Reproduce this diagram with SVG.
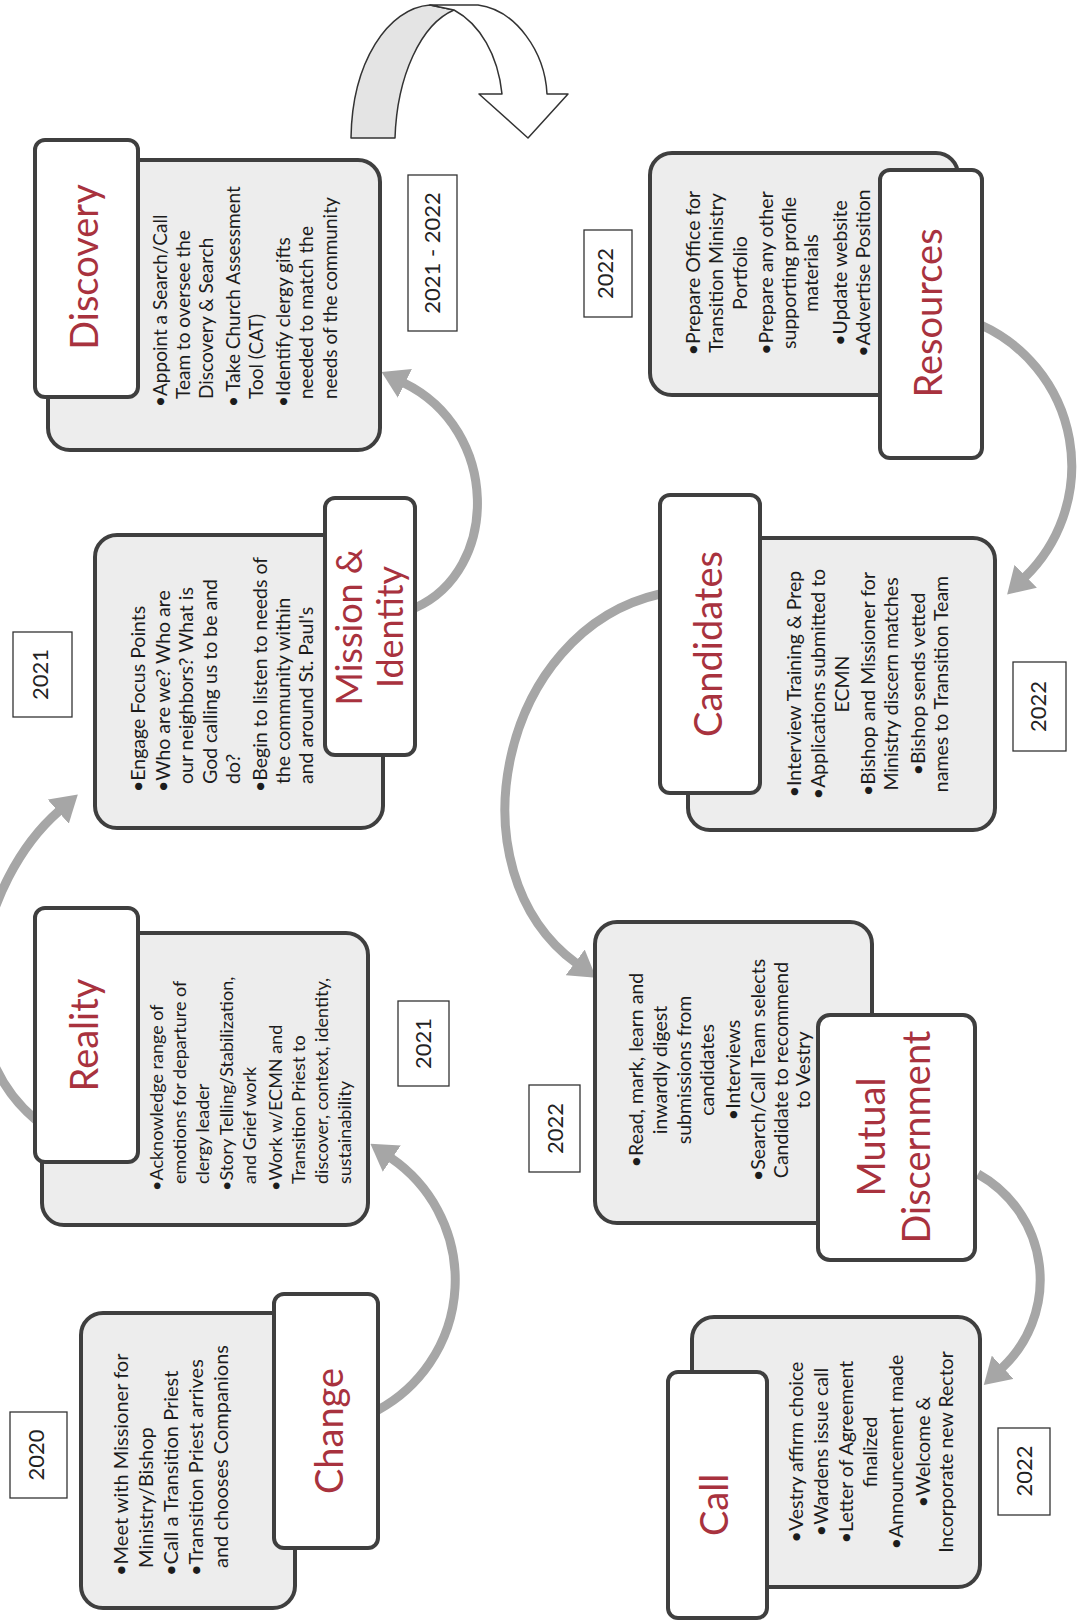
<svg xmlns="http://www.w3.org/2000/svg" width="1079" height="1621" viewBox="0 0 1079 1621">
<defs>
<style>
.body{fill:#ededed;stroke:#3f3f3f;stroke-width:4}
.label{fill:#ffffff;stroke:#3f3f3f;stroke-width:4}
.head{font-family:Lato,"Liberation Sans",sans-serif;font-size:38px;fill:#a8323e;text-anchor:middle}
.txt{font-family:Lato,"Liberation Sans",sans-serif;font-size:19.5px;fill:#1c1c1c}
.ctr{text-anchor:middle}
.yr rect{fill:#ffffff;stroke:#333333;stroke-width:1.3}
.yr text{font-family:Lato,"Liberation Sans",sans-serif;font-size:22px;fill:#222222;text-anchor:middle}
.conn{fill:none;stroke:#a6a6a6;stroke-width:9;marker-end:url(#ah)}
.uturn{stroke:#333333;stroke-width:1.5;stroke-linejoin:round}
</style>
<marker id="ah" markerUnits="userSpaceOnUse" markerWidth="26" markerHeight="32" refX="1" refY="16" orient="auto" viewBox="0 0 26 32">
<path d="M0,0 L26,16 L0,32 z" fill="#a6a6a6"/>
</marker>
</defs>
<rect x="0" y="0" width="1079" height="1621" fill="#ffffff"/>

<g id="connectors">
<path class="conn" d="M378,1410 A148,148 0 0 0 391,1158"/>
<path class="conn" d="M36,1120 C-60,1040 -20,880 59,811"/>
<path class="conn" d="M415,608 C500,570 500,430 404,383"/>
<path class="conn" d="M981,325 A155,155 0 0 1 1025,577"/>
<path class="conn" d="M660,594 C500,630 450,870 576,963"/>
<path class="conn" d="M978,1174 A121,121 0 0 1 1002,1368"/>
<g id="uturn-arrow">
<path class="uturn" fill="#e4e4e4" d="M351,138 C352,62 388,8 430,5 L454,10 C421,24 397,76 395,138 Z"/>
<path class="uturn" fill="#ffffff" d="M430,5 L478,5 C516,10 545,52 547,94 L568,94 L528,138 L479,94 L502,94 C498,55 480,24 454,10 Z"/>
</g>
</g>

<g id="node-change">
<rect class="body" x="81" y="1313" width="214" height="295" rx="22"/>
<rect class="label" x="274" y="1294" width="104" height="254" rx="10"/>
<text class="head" transform="translate(343,1431) rotate(-90)">Change</text>
<g transform="translate(0,1576) rotate(-90)">
<text class="txt" style="font-size:20px"><tspan x="0" y="128">•Meet with Missioner for</tspan><tspan x="8" y="153">Ministry/Bishop</tspan><tspan x="0" y="178">•Call a Transition Priest</tspan><tspan x="0" y="203">•Transition Priest arrives</tspan><tspan x="8" y="228">and chooses Companions</tspan></text>
</g>
</g>

<g id="node-reality">
<rect class="body" x="42" y="933" width="326" height="292" rx="22"/>
<rect class="label" x="35" y="908" width="103" height="254" rx="10"/>
<text class="head" transform="translate(98,1035) rotate(-90)">Reality</text>
<g transform="translate(0,1191) rotate(-90)">
<text class="txt" style="font-size:18px"><tspan x="0" y="163">•Acknowledge range of</tspan><tspan x="7" y="186">emotions for departure of</tspan><tspan x="7" y="209">clergy leader</tspan><tspan x="0" y="233">•Story Telling/Stabilization,</tspan><tspan x="7" y="256">and Grief work</tspan><tspan x="0" y="282">•Work w/ECMN and</tspan><tspan x="7" y="305">Transition Priest to</tspan><tspan x="7" y="328">discover, context, identity,</tspan><tspan x="7" y="351">sustainability</tspan></text>
</g>
</g>

<g id="node-mission">
<rect class="body" x="95" y="535" width="288" height="293" rx="22"/>
<rect class="label" x="325" y="498" width="90" height="257" rx="10"/>
<text class="head" style="font-size:36px" transform="translate(0,627) rotate(-90)"><tspan x="0" y="362">Mission &amp;</tspan><tspan x="0" y="403">Identity</tspan></text>
<g transform="translate(0,792) rotate(-90)">
<text class="txt"><tspan x="0" y="145">•Engage Focus Points</tspan><tspan x="0" y="170">•Who are we? Who are</tspan><tspan x="8" y="193">our neighbors? What is</tspan><tspan x="8" y="217">God calling us to be and</tspan><tspan x="8" y="240">do?</tspan><tspan x="0" y="267">•Begin to listen to needs of</tspan><tspan x="8" y="290">the community within</tspan><tspan x="8" y="313">and around St. Paul's</tspan></text>
</g>
</g>

<g id="node-discovery">
<rect class="body" x="48" y="160" width="332" height="290" rx="22"/>
<rect class="label" x="35" y="140" width="103" height="257" rx="10"/>
<text class="head" transform="translate(98,267) rotate(-90)">Discovery</text>
<g transform="translate(0,407) rotate(-90)">
<text class="txt" style="font-size:19px"><tspan x="0" y="167">•Appoint a Search/Call</tspan><tspan x="8" y="190">Team to oversee the</tspan><tspan x="8" y="213">Discovery &amp; Search</tspan><tspan x="0" y="240">• Take Church Assessment</tspan><tspan x="8" y="263">Tool (CAT)</tspan><tspan x="0" y="290">•Identify clergy gifts</tspan><tspan x="8" y="313">needed to match the</tspan><tspan x="8" y="337">needs of the community</tspan></text>
</g>
</g>

<g id="node-resources">
<rect class="body" x="650" y="153" width="308" height="242" rx="22"/>
<rect class="label" x="880" y="170" width="102" height="288" rx="10"/>
<text class="head" transform="translate(942,313) rotate(-90)">Resources</text>
<g transform="translate(0,273) rotate(-90)">
<text class="txt ctr"><tspan x="0" y="700">•Prepare Office for</tspan><tspan x="0" y="723">Transition Ministry</tspan><tspan x="0" y="747">Portfolio</tspan><tspan x="0" y="773">•Prepare any other</tspan><tspan x="0" y="796">supporting profile</tspan><tspan x="0" y="818">materials</tspan><tspan x="0" y="847">•Update website</tspan><tspan x="0" y="870">•Advertise Position</tspan></text>
</g>
</g>

<g id="node-candidates">
<rect class="body" x="688" y="538" width="307" height="292" rx="22"/>
<rect class="label" x="660" y="495" width="100" height="298" rx="10"/>
<text class="head" transform="translate(722,644) rotate(-90)">Candidates</text>
<g transform="translate(0,684) rotate(-90)">
<text class="txt ctr"><tspan x="0" y="801">•Interview Training &amp; Prep</tspan><tspan x="0" y="825">•Applications submitted to</tspan><tspan x="0" y="849">ECMN</tspan><tspan x="0" y="875">•Bishop and Missioner for</tspan><tspan x="0" y="898">Ministry discern matches</tspan><tspan x="0" y="925">•Bishop sends vetted</tspan><tspan x="0" y="948">names to Transition Team</tspan></text>
</g>
</g>

<g id="node-mutual-discernment">
<rect class="body" x="595" y="922" width="277" height="301" rx="22"/>
<rect class="label" x="818" y="1015" width="157" height="245" rx="12"/>
<text class="head" transform="translate(0,1137) rotate(-90)"><tspan x="0" y="885">Mutual</tspan><tspan x="0" y="930">Discernment</tspan></text>
<g transform="translate(0,1070) rotate(-90)">
<text class="txt ctr"><tspan x="0" y="643">•Read, mark, learn and</tspan><tspan x="0" y="667">inwardly digest</tspan><tspan x="0" y="691">submissions from</tspan><tspan x="0" y="714">candidates</tspan><tspan x="0" y="740">•Interviews</tspan><tspan x="0" y="765">•Search/Call Team selects</tspan><tspan x="0" y="788">Candidate to recommend</tspan><tspan x="0" y="810">to Vestry</tspan></text>
</g>
</g>

<g id="node-call">
<rect class="body" x="692" y="1317" width="288" height="270" rx="22"/>
<rect class="label" x="668" y="1372" width="99" height="246" rx="10"/>
<text class="head" transform="translate(728,1505) rotate(-90)">Call</text>
<g transform="translate(0,1452) rotate(-90)">
<text class="txt ctr"><tspan x="0" y="803">•Vestry affirm choice</tspan><tspan x="0" y="828">•Wardens issue call</tspan><tspan x="0" y="853">•Letter of Agreement</tspan><tspan x="0" y="877">finalized</tspan><tspan x="0" y="903">•Announcement made</tspan><tspan x="0" y="930">•Welcome &amp;</tspan><tspan x="0" y="953">Incorporate new Rector</tspan></text>
</g>
</g>

<g id="year-2020" class="yr"><rect x="10" y="1412" width="57" height="86"/><text transform="translate(44,1455) rotate(-90)">2020</text></g>
<g id="year-2021-a" class="yr"><rect x="13" y="632" width="59" height="85"/><text transform="translate(48,674.5) rotate(-90)">2021</text></g>
<g id="year-2021-b" class="yr"><rect x="398" y="1001" width="51" height="85"/><text transform="translate(431,1043.5) rotate(-90)">2021</text></g>
<g id="year-2021-2022" class="yr"><rect x="408" y="175" width="49" height="156"/><text transform="translate(440,253) rotate(-90)">2021 - 2022</text></g>
<g id="year-2022-a" class="yr"><rect x="584" y="230" width="48" height="87"/><text transform="translate(613,273.5) rotate(-90)">2022</text></g>
<g id="year-2022-b" class="yr"><rect x="1013" y="662" width="53" height="89"/><text transform="translate(1046,706.5) rotate(-90)">2022</text></g>
<g id="year-2022-c" class="yr"><rect x="529" y="1085" width="51" height="87"/><text transform="translate(563,1128.5) rotate(-90)">2022</text></g>
<g id="year-2022-d" class="yr"><rect x="998" y="1428" width="52" height="87"/><text transform="translate(1032,1471) rotate(-90)">2022</text></g>
</svg>
